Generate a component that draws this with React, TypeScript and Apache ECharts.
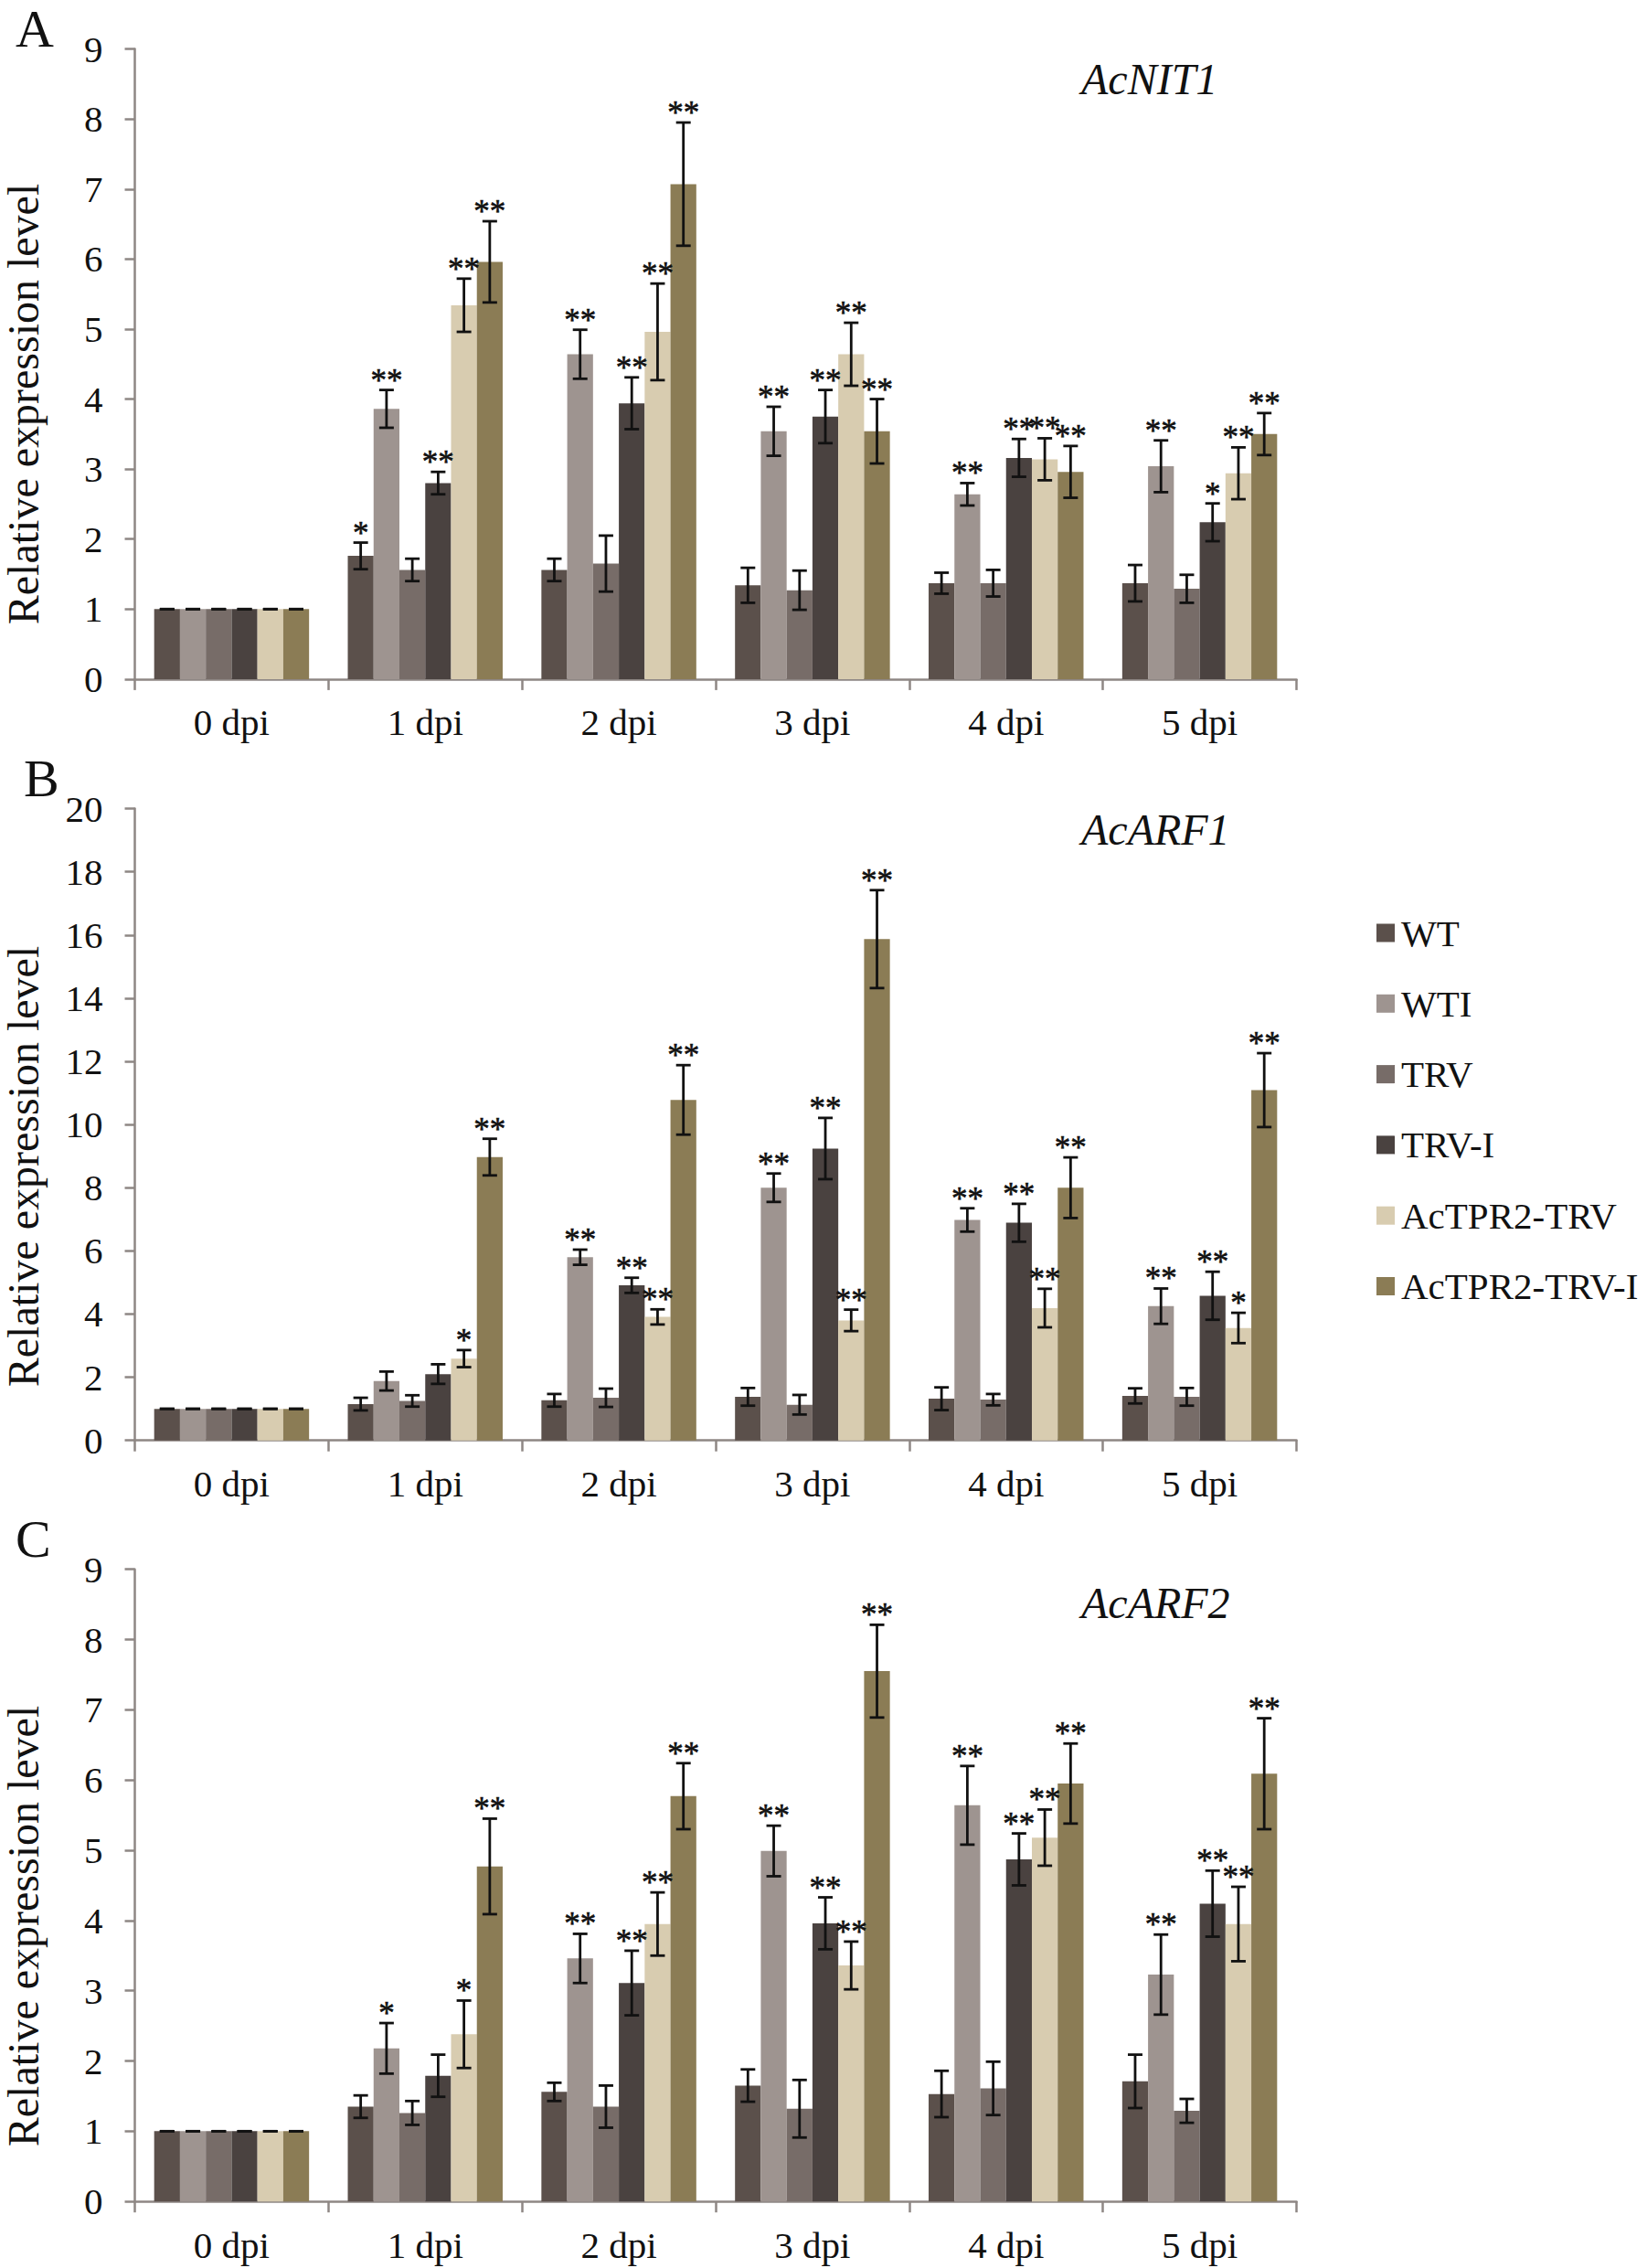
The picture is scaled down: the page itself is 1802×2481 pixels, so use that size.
import React, { useEffect, useRef } from 'react';
import * as echarts from 'echarts';

const categories = ['0 dpi', '1 dpi', '2 dpi', '3 dpi', '4 dpi', '5 dpi'];
const seriesNames = ['WT', 'WTI', 'TRV', 'TRV-I', 'AcTPR2-TRV', 'AcTPR2-TRV-I'];
const colors = ['#5b504b', '#9e9490', '#776c68', '#4a4240', '#d8ccb0', '#8b7c55'];

// Panel A: AcNIT1 (rows = series, columns = categories)
const nit1Mean = [
  [1, 1.76, 1.56, 1.34, 1.37, 1.37],
  [1, 3.86, 4.64, 3.54, 2.64, 3.04],
  [1, 1.56, 1.65, 1.27, 1.37, 1.29],
  [1, 2.80, 3.94, 3.75, 3.16, 2.24],
  [1, 5.34, 4.96, 4.64, 3.14, 2.94],
  [1, 5.96, 7.07, 3.54, 2.96, 3.50],
];
const nit1Err = [
  [0, 0.19, 0.16, 0.25, 0.15, 0.26],
  [0, 0.27, 0.35, 0.35, 0.16, 0.37],
  [0, 0.16, 0.40, 0.28, 0.19, 0.20],
  [0, 0.16, 0.37, 0.38, 0.27, 0.27],
  [0, 0.38, 0.69, 0.45, 0.30, 0.37],
  [0, 0.58, 0.88, 0.46, 0.37, 0.30],
];
const nit1Sig = [
  ['', '*', '', '', '', ''],
  ['', '**', '**', '**', '**', '**'],
  ['', '', '', '', '', ''],
  ['', '**', '**', '**', '**', '*'],
  ['', '**', '**', '**', '**', '**'],
  ['', '**', '**', '**', '**', '**'],
];

// Panel B: AcARF1
const arf1Mean = [
  [1, 1.15, 1.27, 1.38, 1.32, 1.41],
  [1, 1.88, 5.80, 8.00, 6.98, 4.25],
  [1, 1.25, 1.35, 1.13, 1.29, 1.38],
  [1, 2.10, 4.91, 9.24, 6.89, 4.58],
  [1, 2.59, 3.91, 3.80, 4.19, 3.56],
  [1, 8.97, 10.78, 15.87, 8.00, 11.09],
];
const arf1Err = [
  [0, 0.20, 0.20, 0.28, 0.36, 0.24],
  [0, 0.30, 0.24, 0.45, 0.37, 0.56],
  [0, 0.18, 0.29, 0.31, 0.18, 0.28],
  [0, 0.31, 0.24, 0.97, 0.60, 0.76],
  [0, 0.27, 0.24, 0.34, 0.61, 0.48],
  [0, 0.58, 1.10, 1.55, 0.96, 1.17],
];
const arf1Sig = [
  ['', '', '', '', '', ''],
  ['', '', '**', '**', '**', '**'],
  ['', '', '', '', '', ''],
  ['', '', '**', '**', '**', '**'],
  ['', '*', '**', '**', '**', '*'],
  ['', '**', '**', '**', '**', '**'],
];

// Panel C: AcARF2
const arf2Mean = [
  [1, 1.35, 1.56, 1.65, 1.53, 1.71],
  [1, 2.18, 3.46, 4.99, 5.64, 3.23],
  [1, 1.26, 1.35, 1.32, 1.61, 1.29],
  [1, 1.79, 3.11, 3.96, 4.87, 4.24],
  [1, 2.38, 3.95, 3.36, 5.18, 3.95],
  [1, 4.77, 5.77, 7.55, 5.95, 6.09],
];
const arf2Err = [
  [0, 0.16, 0.13, 0.23, 0.33, 0.38],
  [0, 0.36, 0.35, 0.36, 0.56, 0.57],
  [0, 0.17, 0.30, 0.41, 0.38, 0.17],
  [0, 0.30, 0.46, 0.37, 0.37, 0.47],
  [0, 0.48, 0.45, 0.34, 0.40, 0.53],
  [0, 0.68, 0.47, 0.66, 0.57, 0.79],
];
const arf2Sig = [
  ['', '', '', '', '', ''],
  ['', '*', '**', '**', '**', '**'],
  ['', '', '', '', '', ''],
  ['', '', '**', '**', '**', '**'],
  ['', '*', '**', '**', '**', '**'],
  ['', '**', '**', '**', '**', '**'],
];

const geneNames = ['AcNIT1', 'AcARF1', 'AcARF2'];
const panelLetters = ['A', 'B', 'C'];
const yMax = [9, 20, 9];
const yInterval = [1, 2, 1];

const FONT = '"Liberation Serif", "Times New Roman", serif';
const AXIS_COLOR = '#8e8784';
const INK = '#111111';

const panelData = [
  { mean: nit1Mean, err: nit1Err, sig: nit1Sig },
  { mean: arf1Mean, err: arf1Err, sig: arf1Sig },
  { mean: arf2Mean, err: arf2Err, sig: arf2Sig },
];

// layout (pixels)
const GRID_LEFT = 147.5;
const GRID_WIDTH = 1271;
const gridTops = [53.6, 884.6, 1716.7];
const gridHeights = [689.3, 691.1, 691.5];
const letterPos = [[17, 31], [26, 851], [17, 1683]];
const genePos = [[1183, 86], [1183, 907], [1183, 1753]];
const yTitleCenters = [442, 1276, 2107];

function buildOption() {
  const grids = gridTops.map((t, i) => ({
    left: GRID_LEFT,
    width: GRID_WIDTH,
    top: t,
    height: gridHeights[i],
  }));

  const xAxes = gridTops.map((_, i) => ({
    type: 'category',
    gridIndex: i,
    data: categories,
    axisLine: { show: true, lineStyle: { color: AXIS_COLOR, width: 2.5 } },
    axisTick: { show: true, length: 12, lineStyle: { color: AXIS_COLOR, width: 2.5 } },
    axisLabel: { fontFamily: FONT, fontSize: 41, color: INK, margin: 27 },
    splitLine: { show: false },
  }));

  const yAxes = gridTops.map((_, i) => ({
    type: 'value',
    gridIndex: i,
    min: 0,
    max: yMax[i],
    interval: yInterval[i],
    axisLine: { show: true, lineStyle: { color: AXIS_COLOR, width: 2.5 } },
    axisTick: { show: true, length: 11, lineStyle: { color: AXIS_COLOR, width: 2.5 } },
    axisLabel: { fontFamily: FONT, fontSize: 41, color: INK, margin: 35 },
    splitLine: { show: false },
  }));

  const series: any[] = [];
  panelData.forEach((pd, pi) => {
    seriesNames.forEach((name, si) => {
      series.push({
        type: 'bar',
        name,
        xAxisIndex: pi,
        yAxisIndex: pi,
        data: pd.mean[si],
        barGap: '0%',
        barCategoryGap: '20%',
        itemStyle: { color: colors[si] },
        silent: true,
      });
    });
    const recs: any[] = [];
    const sigs: string[] = [];
    categories.forEach((_, ci) => {
      seriesNames.forEach((__, si) => {
        recs.push([ci, si, pd.mean[si][ci], pd.err[si][ci]]);
        sigs.push(pd.sig[si][ci]);
      });
    });
    series.push({
      type: 'custom',
      xAxisIndex: pi,
      yAxisIndex: pi,
      data: recs,
      encode: { x: 0, y: 2 },
      z: 5,
      silent: true,
      renderItem: (params: any, api: any) => {
        const ci = api.value(0);
        const si = api.value(1);
        const v = api.value(2);
        const e = api.value(3);
        const catW = api.size([1, 0])[0];
        const barW = (catW * 0.8) / 6;
        const base = api.coord([ci, v]);
        const x = base[0] + (si - 2.5) * barW;
        const yT = api.coord([ci, v + e])[1];
        const yB = api.coord([ci, v - e])[1];
        const hw = 8;
        const ls = { stroke: INK, lineWidth: 2.8 };
        const children: any[] = [
          { type: 'line', shape: { x1: x, y1: yT, x2: x, y2: yB }, style: ls },
          { type: 'line', shape: { x1: x - hw, y1: yT, x2: x + hw, y2: yT }, style: ls },
          { type: 'line', shape: { x1: x - hw, y1: yB, x2: x + hw, y2: yB }, style: ls },
        ];
        const s = sigs[params.dataIndex];
        if (s) {
          children.push({
            type: 'text',
            x,
            y: yT + 7,
            style: {
              text: s,
              fill: INK,
              fontFamily: FONT,
              fontSize: 35,
              align: 'center',
              verticalAlign: 'bottom',
              stroke: INK,
              lineWidth: 0.6,
            },
          });
        }
        return { type: 'group', children };
      },
    });
  });

  const graphics: any[] = [];
  panelLetters.forEach((L, i) => {
    graphics.push({
      type: 'text',
      x: letterPos[i][0],
      y: letterPos[i][1],
      style: { text: L, fill: INK, fontFamily: FONT, fontSize: 58, align: 'left', verticalAlign: 'middle' },
    });
    graphics.push({
      type: 'text',
      x: genePos[i][0],
      y: genePos[i][1],
      style: {
        text: geneNames[i],
        fill: INK,
        fontFamily: FONT,
        fontStyle: 'italic',
        fontSize: 48,
        align: 'left',
        verticalAlign: 'middle',
      },
    });
    graphics.push({
      type: 'text',
      x: 25,
      y: yTitleCenters[i],
      rotation: Math.PI / 2,
      style: {
        text: 'Relative expression level',
        fill: INK,
        fontFamily: FONT,
        fontSize: 48,
        align: 'center',
        verticalAlign: 'middle',
      },
    });
  });

  return {
    animation: false,
    backgroundColor: '#ffffff',
    grid: grids,
    xAxis: xAxes,
    yAxis: yAxes,
    legend: {
      show: true,
      orient: 'vertical',
      left: 1501,
      top: 995,
      itemWidth: 20,
      itemHeight: 20,
      itemGap: 36.3,
      icon: 'rect',
      selectedMode: false,
      data: seriesNames,
      textStyle: { fontFamily: FONT, fontSize: 41, color: INK, lineHeight: 40, padding: [0, 0, 0, 2] },
    },
    graphic: graphics,
    series,
  };
}

export default function App() {
  const ref = useRef<HTMLDivElement>(null);
  useEffect(() => {
    if (!ref.current) return;
    const chart = echarts.init(ref.current, null, { renderer: 'svg' });
    chart.setOption(buildOption() as any);
    return () => chart.dispose();
  }, []);
  return (
    <div
      ref={ref}
      style={{ position: 'absolute', left: 0, top: 0, width: 1802, height: 2481, background: '#fff' }}
    />
  );
}
